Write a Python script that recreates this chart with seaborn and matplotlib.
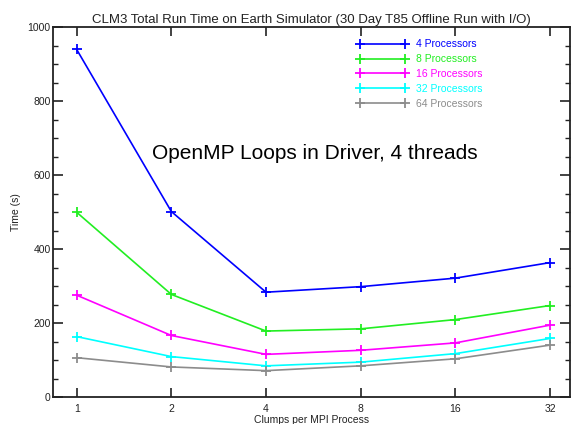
import numpy as np
import pandas as pd
import matplotlib
matplotlib.use('Agg')
import matplotlib.pyplot as plt
import seaborn as sns
from matplotlib.ticker import MultipleLocator, NullLocator

# ── Datos ─────────────────────────────────────────────────────────────────────
clumps = [1, 2, 4, 8, 16, 32]
series = ['4 Processors', '8 Processors', '16 Processors', '32 Processors', '64 Processors']
t_4p  = [940, 502, 284, 299, 322, 364]
t_8p  = [500, 278, 179, 185, 210, 248]
t_16p = [276, 167, 116, 127, 147, 195]
t_32p = [164, 110,  85,  95, 118, 159]
t_64p = [107,  82,  72,  85, 104, 141]
colores = ['#0000ff', '#22ee22', '#ff00ff', '#00ffff', '#8c8c8c']

df = pd.DataFrame({
    'clumps': clumps * len(series),
    'tiempo': t_4p + t_8p + t_16p + t_32p + t_64p,
    'serie': np.repeat(series, len(clumps)),
})

sns.set_style('ticks')
plt.rcParams['font.family'] = ['Liberation Sans', 'DejaVu Sans']

fig = plt.figure(figsize=(5.72, 4.24), dpi=100)
ax = fig.add_axes([0.0935, 0.063, 0.903, 0.8727])

for nombre, color in zip(series, colores):
    sub = df[df['serie'] == nombre]
    sns.lineplot(data=sub, x='clumps', y='tiempo', color=color, marker='+',
                 markersize=6.5, markeredgewidth=1.3, linewidth=1.2,
                 markeredgecolor=color, label=nombre, ax=ax)

ax.set_xscale('log', base=2)
ax.set_xlim(2 ** -0.245, 2 ** 5.211)
ax.set_xticks(clumps)
ax.set_xticklabels([str(c) for c in clumps])
ax.xaxis.set_minor_locator(NullLocator())
ax.set_ylim(0, 1000)
ax.yaxis.set_major_locator(MultipleLocator(200))
ax.yaxis.set_minor_locator(MultipleLocator(50))

for sp in ax.spines.values():
    sp.set_visible(True)
    sp.set_color('#222222')
    sp.set_linewidth(1.3)
ax.tick_params(axis='both', which='major', direction='in', length=7, width=1.2,
               top=True, right=True, labelsize=7.5, colors='#222222', pad=2)
ax.tick_params(axis='y', which='minor', direction='in', length=3.6, width=1.0,
               right=True, colors='#222222')
ax.tick_params(axis='x', which='major', length=6.5, pad=4.5)

ax.set_xlabel('Clumps per MPI Process', fontsize=7.5, color='#222222', labelpad=1)
ax.set_ylabel('Time (s)', fontsize=7.5, color='#222222', labelpad=4.5)
ax.set_title('CLM3 Total Run Time on Earth Simulator (30 Day T85 Offline Run with I/O)',
             fontsize=9.5, color='#222222', pad=3)

ax.text(0.19, 0.66, 'OpenMP Loops in Driver, 4 threads', transform=ax.transAxes,
        fontsize=15, color='#000000', va='center', ha='left')

leg = ax.legend(loc='upper left', bbox_to_anchor=(0.624, 0.907),
                bbox_transform=fig.transFigure, frameon=False, numpoints=2,
                fontsize=7.5, handlelength=4.9, handletextpad=0.8,
                labelspacing=0.46, borderpad=0, borderaxespad=0,
                labelcolor='linecolor')

fig.savefig('out.png', dpi=100)
